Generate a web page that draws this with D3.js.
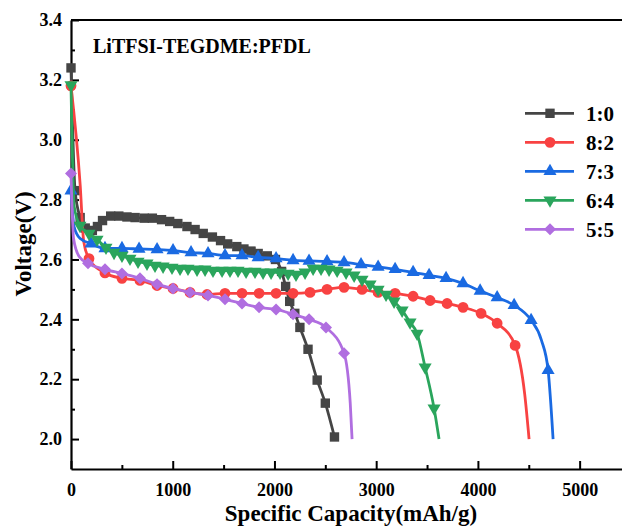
<!DOCTYPE html>
<html>
<head>
<meta charset="utf-8">
<script src="https://cdn.jsdelivr.net/npm/d3@7"></script>
<style>
body { margin: 0; background: #fff; }
text { font-family: "Liberation Serif", "Times New Roman", serif; font-weight: bold; fill: #000; }
</style>
</head>
<body>
<svg id="chart"></svg>
<script>
// series names (LiTFSI-TEGDME : PFDL ratio)
var names = ["1:0", "8:2", "7:3", "6:4", "5:5"];
var colors = ["#454545", "#f84242", "#1a6ae2", "#2aa55c", "#b06ee0"];

// [capacity mAh/g, voltage V] - points with a marker
var mk10 = [[0,3.24],[40,2.83],[90,2.74],[140,2.705],[210,2.697],[260,2.71],[310,2.73],[390,2.745],[470,2.745],[550,2.742],[630,2.74],[720,2.738],[800,2.738],[890,2.733],[970,2.727],[1050,2.72],[1140,2.71],[1220,2.70],[1300,2.687],[1390,2.675],[1470,2.663],[1540,2.652],[1630,2.643],[1700,2.635],[1770,2.628],[1840,2.62],[1930,2.612],[2010,2.60],[2070,2.56],[2110,2.51],[2150,2.46],[2200,2.42],[2250,2.373],[2330,2.30],[2420,2.197],[2500,2.12],[2590,2.007]];
var mk82 = [[0,3.18],[177,2.603],[334,2.555],[501,2.537],[678,2.53],[846,2.513],[1003,2.503],[1170,2.49],[1337,2.483],[1514,2.487],[1681,2.487],[1849,2.487],[2016,2.487],[2183,2.487],[2350,2.49],[2517,2.50],[2684,2.507],[2861,2.50],[3019,2.49],[3186,2.487],[3363,2.477],[3530,2.463],[3697,2.453],[3854,2.44],[4031,2.42],[4189,2.387],[4366,2.313]];
var mk73 = [[0,2.83],[197,2.653],[334,2.637],[501,2.637],[669,2.635],[846,2.633],[1003,2.63],[1180,2.623],[1347,2.62],[1514,2.613],[1681,2.613],[1839,2.607],[2016,2.603],[2183,2.597],[2340,2.595],[2517,2.593],[2684,2.59],[2851,2.583],[3019,2.575],[3186,2.567],[3363,2.557],[3520,2.547],[3687,2.537],[3854,2.52],[4022,2.495],[4189,2.473],[4356,2.447],[4523,2.397],[4690,2.23]];
var mk64 = [[0,3.183],[88,2.713],[177,2.687],[256,2.667],[344,2.64],[423,2.623],[501,2.613],[580,2.603],[659,2.593],[747,2.587],[826,2.58],[905,2.577],[993,2.573],[1072,2.57],[1150,2.57],[1239,2.567],[1318,2.567],[1396,2.563],[1485,2.563],[1563,2.563],[1642,2.563],[1721,2.56],[1809,2.56],[1888,2.557],[1967,2.557],[2055,2.557],[2134,2.553],[2212,2.55],[2301,2.557],[2380,2.57],[2458,2.57],[2537,2.567],[2616,2.563],[2704,2.557],[2783,2.547],[2861,2.533],[2940,2.517],[3019,2.50],[3097,2.483],[3176,2.46],[3255,2.43],[3333,2.39],[3402,2.353],[3481,2.24],[3569,2.103]];
var mk55 = [[0,2.887],[167,2.587],[334,2.567],[501,2.553],[678,2.537],[846,2.517],[1003,2.503],[1170,2.49],[1347,2.48],[1514,2.467],[1681,2.453],[1849,2.44],[2016,2.433],[2183,2.417],[2340,2.40],[2507,2.373],[2684,2.287]];

// line-only points (no marker)
var ln10 = [];
var ln82 = [[90,2.85],[125,2.66],[4460,2.15],[4503,2.0]];
var ln73 = [[30,2.71],[90,2.67],[4625,2.33],[4739,2.0]];
var ln64 = [[30,2.78],[3618,2.0]];
var ln55 = [[25,2.67],[80,2.61],[2745,2.12],[2763,2.0]];

var marks = [mk10, mk82, mk73, mk64, mk55];
var extras = [ln10, ln82, ln73, ln64, ln55];

var xTicks = [0, 1000, 2000, 3000, 4000, 5000];
var xMinor = [500, 1500, 2500, 3500, 4500];
var yTicks = [2.0, 2.2, 2.4, 2.6, 2.8, 3.0, 3.2, 3.4];
var yMinor = [2.1, 2.3, 2.5, 2.7, 2.9, 3.1, 3.3];

var svgWidth = 622;
var svgHeight = 528;

var svg = d3.select("#chart")
	.attr("width", svgWidth)
	.attr("height", svgHeight);

var xScale = d3.scaleLinear()
	.domain([0, 5500])
	.range([71, 630.5]);

var yScale = d3.scaleLinear()
	.domain([1.9, 3.4])
	.range([469, 20]);

// top frame
svg.append("line")
	.attr("x1", 71).attr("x2", svgWidth + 5)
	.attr("y1", yScale(3.4)).attr("y2", yScale(3.4))
	.attr("stroke", "#000").attr("stroke-width", 2);

// minor ticks
svg.append("g")
	.attr("transform", "translate(0," + yScale(1.9) + ")")
	.call(d3.axisBottom(xScale).tickValues(xMinor).tickSizeInner(-4).tickSizeOuter(0).tickFormat(""))
	.call(function(g) { g.select(".domain").remove(); });
svg.append("g")
	.attr("transform", "translate(" + xScale(0) + ",0)")
	.call(d3.axisLeft(yScale).tickValues(yMinor).tickSizeInner(-4).tickSizeOuter(0).tickFormat(""))
	.call(function(g) { g.select(".domain").remove(); });

// major axes
var xAxis = svg.append("g")
	.attr("transform", "translate(0," + yScale(1.9) + ")")
	.call(d3.axisBottom(xScale).tickValues(xTicks).tickSizeInner(-8).tickSizeOuter(0).tickPadding(14).tickFormat(d3.format("d")));
var yAxis = svg.append("g")
	.attr("transform", "translate(" + xScale(0) + ",0)")
	.call(d3.axisLeft(yScale).tickValues(yTicks).tickSizeInner(-8).tickSizeOuter(0).tickPadding(9).tickFormat(d3.format(".1f")));

svg.selectAll(".tick line").attr("stroke", "#000").attr("stroke-width", 2);
svg.selectAll(".domain").attr("stroke", "#000").attr("stroke-width", 2.2);
xAxis.selectAll("text").attr("font-size", 18).attr("dy", "0.71em");
yAxis.selectAll("text").attr("font-size", 18);

// axis titles
svg.append("text")
	.attr("x", 351).attr("y", 521)
	.attr("text-anchor", "middle")
	.attr("font-size", 23)
	.text("Specific Capacity(mAh/g)");
svg.append("text")
	.attr("transform", "translate(31,244) rotate(-90)")
	.attr("text-anchor", "middle")
	.attr("font-size", 23)
	.text("Voltage(V)");

svg.append("text")
	.attr("x", 93).attr("y", 53)
	.attr("font-size", 20)
	.text("LiTFSI-TEGDME:PFDL");

// marker shapes
var symbolFor = function(i) {
	if (i == 0) return d3.symbol().type(d3.symbolSquare).size(88)();
	if (i == 1) return d3.symbol().type(d3.symbolCircle).size(92)();
	if (i == 2 || i == 3) return d3.symbol().type(d3.symbolTriangle).size(74)();
	return d3.symbol().type(d3.symbolSquare).size(72)();
};
var rotFor = function(i) {
	if (i == 3) return 180;
	if (i == 4) return 45;
	return 0;
};

var line = d3.line()
	.x(function(d) { return xScale(d[0]); })
	.y(function(d) { return yScale(d[1]); })
	.curve(d3.curveMonotoneX);

names.forEach(function(name, i) {
	var pts = d3.merge([marks[i], extras[i]]).sort(function(a, b) { return a[0] - b[0]; });
	var g = svg.append("g");
	g.append("path")
		.attr("d", line(pts))
		.attr("fill", "none")
		.attr("stroke", colors[i])
		.attr("stroke-width", 2.8);
	g.selectAll("path.mk")
		.data(marks[i])
		.enter()
		.append("path")
		.attr("class", "mk")
		.attr("d", symbolFor(i))
		.attr("fill", colors[i])
		.attr("transform", function(d) {
			return "translate(" + xScale(d[0]) + "," + yScale(d[1]) + ") rotate(" + rotFor(i) + ")";
		});
});

// legend
var legend = svg.append("g");
names.forEach(function(name, i) {
	var y = 113.3 + i * 29;
	legend.append("line")
		.attr("x1", 525).attr("x2", 574)
		.attr("y1", y).attr("y2", y)
		.attr("stroke", colors[i]).attr("stroke-width", 2.8);
	legend.append("path")
		.attr("d", symbolFor(i))
		.attr("fill", colors[i])
		.attr("transform", "translate(550," + y + ") rotate(" + rotFor(i) + ")");
	legend.append("text")
		.attr("x", 586).attr("y", y + 8)
		.attr("font-size", 21)
		.text(name);
});
</script>
</body>
</html>
